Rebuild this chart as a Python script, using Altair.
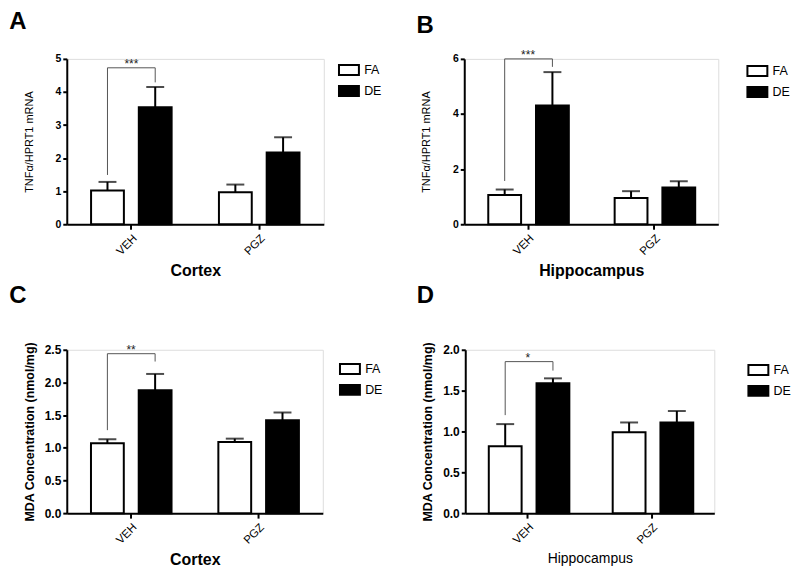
import altair as alt
import pandas as pd

conditions = ["VEH", "PGZ"]
groups = ["FA", "DE"]

# Panel A: TNFa cortex
a_fa_mean = [1.02, 0.97]
a_fa_sem = [0.26, 0.23]
a_de_mean = [3.54, 2.17]
a_de_sem = [0.61, 0.46]
a_bracket = [1.49, 4.73, 4.29]
a_stars = "***"

# Panel B: TNFa hippocampus
b_fa_mean = [1.06, 0.95]
b_fa_sem = [0.20, 0.25]
b_de_mean = [4.31, 1.33]
b_de_sem = [1.21, 0.23]
b_bracket = [1.57, 6.0, 5.71]
b_stars = "***"

# Panel C: MDA cortex
c_fa_mean = [1.07, 1.09]
c_fa_sem = [0.06, 0.05]
c_de_mean = [1.88, 1.42]
c_de_sem = [0.25, 0.12]
c_bracket = [1.27, 2.44, 2.32]
c_stars = "**"

# Panel D: MDA hippocampus
d_fa_mean = [0.82, 0.99]
d_fa_sem = [0.27, 0.12]
d_de_mean = [1.59, 1.11]
d_de_sem = [0.06, 0.14]
d_bracket = [1.20, 1.855, 1.745]
d_stars = "*"

FONT = "Liberation Sans"


def make_panel(letter, fa_mean, fa_sem, de_mean, de_sem, bracket, stars,
               ymax, ystep, fmt, ylab_size, ytitle, ytitle_size, ytitle_weight, ytitle_pad,
               xtitle, xtitle_size, xtitle_weight, width, height,
               title_offset, title_dx, legend_x, legend_y):
    rows = []
    for i, c in enumerate(conditions):
        rows.append(dict(cond=c, grp="FA", mean=fa_mean[i], top=fa_mean[i] + fa_sem[i]))
        rows.append(dict(cond=c, grp="DE", mean=de_mean[i], top=de_mean[i] + de_sem[i]))
    df = pd.DataFrame(rows)
    br = pd.DataFrame(dict(cond=["VEH"] * 4, grp=["FA", "FA", "DE", "DE"],
                           y=[bracket[0], bracket[1], bracket[1], bracket[2]],
                           ord=[0, 1, 2, 3]))
    st = pd.DataFrame(dict(cond=["VEH"], y=[bracket[1]], label=[stars]))

    ticks = []
    v = 0.0
    while v <= ymax + 1e-9:
        ticks.append(round(v, 4))
        v += ystep

    xaxis = alt.Axis(title=xtitle, labelAngle=-45, labelFontSize=11.5, labelFont=FONT,
                     labelColor="black", tickSize=5, tickWidth=2, tickColor="black",
                     domainColor="black", domainWidth=2, titleFontSize=xtitle_size,
                     titleFontWeight=xtitle_weight, titleFont=FONT, titleColor="black",
                     titlePadding=6, labelPadding=3)
    yaxis = alt.Axis(title=ytitle, values=ticks, format=fmt, labelFontSize=ylab_size,
                     labelFontWeight="bold", labelFont=FONT, labelColor="black",
                     tickSize=4, tickWidth=2, tickColor="black", domainColor="black",
                     domainWidth=2, titleFontSize=ytitle_size, titleFontWeight=ytitle_weight,
                     titleFont=FONT, titleColor="black", titlePadding=ytitle_pad, grid=False,
                     labelPadding=2)
    xs = alt.Scale(paddingInner=0.37, paddingOuter=0.19)
    xo = alt.Scale(paddingInner=0.3125, paddingOuter=0)
    ys = alt.Scale(domain=[0, ymax], nice=False)

    xenc = alt.X("cond:N", sort=conditions, scale=xs, axis=xaxis)
    xoff = alt.XOffset("grp:N", sort=groups, scale=xo)

    base = alt.Chart(df)
    bars = base.mark_bar(stroke="black", strokeWidth=2).encode(
        x=xenc, xOffset=xoff,
        y=alt.Y("mean:Q", scale=ys, axis=yaxis),
        fill=alt.Fill("grp:N", sort=groups,
                      scale=alt.Scale(domain=groups, range=["white", "black"]),
                      legend=alt.Legend(title=None, orient="none", legendX=legend_x,
                                        legendY=legend_y,
                                        symbolType="M-2,-1H2V1H-2Z", symbolSize=100,
                                        symbolStrokeColor="black", symbolStrokeWidth=2,
                                        labelFontSize=12.5, labelFont=FONT,
                                        labelColor="black", rowPadding=2, labelOffset=9)),
    )
    err = base.mark_rule(color="black", strokeWidth=2).encode(
        x=xenc, xOffset=xoff, y=alt.Y("mean:Q", scale=ys, axis=yaxis), y2="top:Q")
    cap = base.mark_tick(color="black", thickness=2, size=18, orient="horizontal").encode(
        x=xenc, xOffset=xoff, y=alt.Y("top:Q", scale=ys, axis=yaxis))
    bline = alt.Chart(br).mark_line(color="#555555", strokeWidth=1).encode(
        x=xenc, xOffset=xoff, y=alt.Y("y:Q", scale=ys, axis=yaxis), order="ord:Q")
    stxt = alt.Chart(st).mark_text(fontSize=12, font=FONT, baseline="middle", dy=-4,
                                   fill="#222222").encode(
        x=xenc, y=alt.Y("y:Q", scale=ys, axis=yaxis), text="label:N")

    return alt.layer(bars, err, cap, bline, stxt).properties(
        width=width, height=height,
        title=alt.TitleParams(letter, anchor="start", frame="bounds", fontSize=24,
                              fontWeight="bold", font=FONT, color="black",
                              offset=title_offset, dx=title_dx),
    )


pA = make_panel("A", a_fa_mean, a_fa_sem, a_de_mean, a_de_sem, a_bracket, a_stars,
                5, 1, "d", 10.5, "TNFα/HPRT1 mRNA", 11, "normal", 21,
                "Cortex", 16, "bold", 258, 166, 20, -14, 277, 5)
pB = make_panel("B", b_fa_mean, b_fa_sem, b_de_mean, b_de_sem, b_bracket, b_stars,
                6, 2, "d", 10.5, "TNFα/HPRT1 mRNA", 11, "normal", 21,
                "Hippocampus", 16, "bold", 255, 166, 11, -4, 288, 6)
pC = make_panel("C", c_fa_mean, c_fa_sem, c_de_mean, c_de_sem, c_bracket, c_stars,
                2.5, 0.5, ".1f", 12, "MDA Concentration (nmol/mg)", 12.5, "bold", 8,
                "Cortex", 16, "bold", 257, 164, 34, -14, 278, 13)
pD = make_panel("D", d_fa_mean, d_fa_sem, d_de_mean, d_de_sem, d_bracket, d_stars,
                2.0, 0.5, ".1f", 12, "MDA Concentration (nmol/mg)", 12.5, "bold", 8,
                "Hippocampus", 14, "normal", 250, 164, 34, -5, 288, 14)

top = alt.hconcat(pA, pB, spacing=33).resolve_scale(
    fill="independent", y="independent", x="independent").resolve_legend(fill="independent")
bottom = alt.hconcat(pC, pD, spacing=32).resolve_scale(
    fill="independent", y="independent", x="independent").resolve_legend(fill="independent")

chart = alt.vconcat(top, bottom, spacing=3).resolve_scale(
    fill="independent", y="independent", x="independent").resolve_legend(
    fill="independent").properties(
    padding={"left": 0, "top": 0, "right": 0, "bottom": 0}
).configure_view(stroke=None).configure(font=FONT, background="white")

chart.save("out.html", embed_options={"renderer": "svg", "actions": False})
